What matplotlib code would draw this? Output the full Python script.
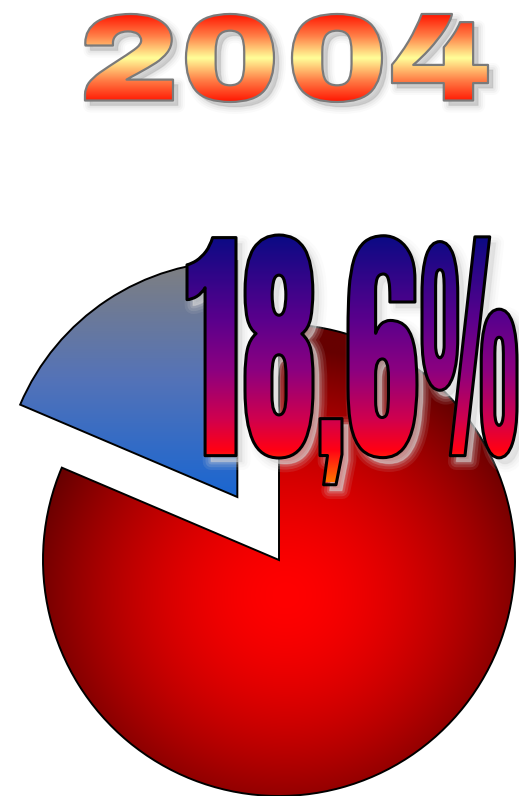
import numpy as np
import matplotlib
matplotlib.use("Agg")
import matplotlib.pyplot as plt
from matplotlib.textpath import TextPath
from matplotlib.font_manager import FontProperties, fontManager
from matplotlib.patches import PathPatch
from matplotlib.path import Path
from matplotlib.transforms import Affine2D
from matplotlib.colors import LinearSegmentedColormap

# ---- data ----
shares = [18.6, 81.4]
slice_names = ["highlight", "rest"]
explode = [0.32, 0.0]
title_text = "2004"
highlight_label = "18,6%"

W, H = 519, 796
fig = plt.figure(figsize=(W / 100, H / 100), dpi=100)

_names = {f.name for f in fontManager.ttflist}
title_family = 'Archivo Black' if 'Archivo Black' in _names else 'DejaVu Sans'
label_family = 'Anton' if 'Anton' in _names else 'DejaVu Sans'

# ---- pie axes (units = pie radius) ----
cx_px, cy_px, R_px = 279, 560, 236
pax = fig.add_axes([0, 0, 1, 1])
wedges, _ = pax.pie(shares, startangle=90, counterclock=True, explode=explode,
                    radius=1.0, center=(0, 0),
                    wedgeprops=dict(facecolor='none', edgecolor='black', linewidth=1.4, zorder=3))
pax.set_aspect('auto')
pax.axis('off')

# red radial gradient
n = 400
gx = np.linspace(-1.05, 1.05, n)
gy = np.linspace(-1.05, 1.05, n)
X, Y = np.meshgrid(gx, gy)
d = np.hypot((X - 0.03) * 0.95, Y + 0.15)
t = np.clip(d / 1.05, 0, 1)
red = 1.0 - 0.6 * t ** 1.7
img = np.dstack([red, np.zeros_like(red), np.zeros_like(red)])
im = pax.imshow(img, extent=(-1.05, 1.05, -1.05, 1.05), origin='lower',
                aspect='auto', interpolation='bilinear', zorder=1)
im.set_clip_path(wedges[1])

# blue/gray linear gradient for exploded slice
wc = wedges[0].center
ylo, yhi = wc[1], wc[1] + 1.0
cmap_b = LinearSegmentedColormap.from_list('b', [(0.0, (0.10, 0.40, 0.82)),
                                                  (0.5, (0.33, 0.45, 0.72)),
                                                  (1.0, (0.50, 0.50, 0.50))])
grad = np.linspace(0, 1, 256).reshape(-1, 1)
im2 = pax.imshow(grad, cmap=cmap_b, extent=(wc[0] - 1.05, wc[0] + 0.05, ylo, yhi),
                 origin='lower', aspect='auto', interpolation='bilinear', zorder=1)
im2.set_clip_path(wedges[0])
pax.set_xlim(-cx_px / R_px, (W - cx_px) / R_px)
pax.set_ylim(-(H - cy_px) / R_px, cy_px / R_px)

# ---- text axes (pixel units) ----
tax = fig.add_axes([0, 0, 1, 1])
tax.set_xlim(0, W)
tax.set_ylim(0, H)
tax.axis('off')
tax.patch.set_alpha(0)


def char_paths(s, family, weight, xboxes, top, bottom, ref_char):
    fp = FontProperties(family=family, weight=weight)
    rext = TextPath((0, 0), ref_char, size=100, prop=fp).get_extents()
    sy = (bottom - top) / (rext.y1 - rext.y0)
    base_y = (H - bottom) - rext.y0 * sy
    paths = []
    for ch, (l, r) in zip(s, xboxes):
        tp = TextPath((0, 0), ch, size=100, prop=fp)
        e = tp.get_extents()
        sx = (r - l) / (e.x1 - e.x0)
        tr = Affine2D().translate(-e.x0, 0).scale(sx, sy).translate(l, base_y)
        paths.append(tr.transform_path(tp))
    return Path.make_compound_path(*paths)


def draw_gradient_text(path, stops, ytop, ybot, edge, lw, shadow_off, shadow_col, layers):
    sp = Affine2D().translate(shadow_off[0], -shadow_off[1]).transform_path(path)
    for lwk, a in layers:
        tax.add_patch(PathPatch(sp, facecolor=shadow_col, edgecolor=shadow_col,
                                linewidth=lwk, alpha=a, zorder=4, joinstyle='round'))
    base = PathPatch(path, facecolor='none', edgecolor='none', zorder=5)
    tax.add_patch(base)
    cm = LinearSegmentedColormap.from_list('g', stops)
    g = np.linspace(0, 1, 256).reshape(-1, 1)
    ex = path.get_extents()
    imt = tax.imshow(g, cmap=cm, extent=(ex.x0 - 2, ex.x1 + 2, H - ybot, H - ytop),
                     origin='upper', aspect='auto', interpolation='bilinear', zorder=5)
    imt.set_clip_path(base)
    tax.add_patch(PathPatch(path, facecolor='none', edgecolor=edge, linewidth=lw,
                            zorder=6, joinstyle='round'))


# title "2004"
p2004 = char_paths(title_text, title_family, 'black',
                   [(85, 173), (186, 274), (292, 382), (392, 488)], 14, 102, '0')
draw_gradient_text(p2004,
                   [(0.0, (1.0, 0.08, 0.0)), (0.25, (1.0, 0.50, 0.28)),
                    (0.5, (1.0, 1.0, 0.60)), (0.75, (1.0, 0.50, 0.28)),
                    (1.0, (1.0, 0.08, 0.0))],
                   14, 102, '#7a7a7a', 1.6, (5, 5), '#808080',
                   [(10, 0.04), (7, 0.06), (4, 0.08), (1, 0.12)])

# label "18,6%"
plab = char_paths(highlight_label, label_family, 'normal',
                  [(187, 236), (245, 313), (320, 342), (348, 417), (422, 517)], 235, 458, '8')
draw_gradient_text(plab,
                   [(0.0, (0.04, 0.04, 0.52)), (0.35, (0.36, 0.0, 0.55)),
                    (0.55, (0.55, 0.0, 0.50)), (0.75, (0.82, 0.0, 0.30)),
                    (0.87, (1.0, 0.0, 0.08)), (1.0, (1.0, 0.45, 0.0))],
                   235, 482, 'black', 2.2, (6, 6), '#d8d8d8',
                   [(12, 0.10), (8, 0.15), (4, 0.2), (1, 0.3)])

fig.savefig('out.png', dpi=100)
